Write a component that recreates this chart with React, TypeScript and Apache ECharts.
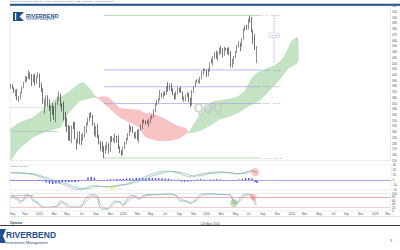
import React, { useEffect, useRef } from 'react';
import * as echarts from 'echarts';

const START_DATE = '2021-08-30';
const WEEK_COUNT = 237;

// weekly candles [open, close, low, high] from week of 2021-08-30 to week of 2024-08-05
const candles: number[][] = [
  [378, 382, 376, 384], [382, 376, 375, 383], [376, 370, 368, 378], [368, 372, 362, 374],
  [373, 358, 355, 375], [356, 360, 352, 363], [360, 369, 357, 370], [369, 378, 367, 379],
  [378, 387, 376, 388], [388, 396, 386, 397], [396, 393, 388, 397], [393, 401, 392, 408],
  [402, 394, 392, 404], [394, 388, 380, 401], [389, 398, 386, 400], [398, 389, 381, 402],
  [387, 397, 384, 398], [398, 398, 395, 404], [400, 380, 377, 402], [378, 376, 370, 386],
  [374, 350, 349, 376], [346, 355, 332, 358], [356, 358, 344, 364], [358, 346, 345, 364],
  [346, 340, 337, 357], [338, 344, 318, 346], [342, 340, 330, 350], [337, 323, 321, 345],
  [323, 350, 317, 352], [350, 360, 347, 362], [361, 363, 354, 371], [362, 347, 344, 367],
  [345, 338, 336, 350], [339, 322, 320, 353], [320, 313, 309, 335], [313, 308, 300, 325],
  [305, 304, 285, 312], [306, 288, 284, 310], [290, 310, 280, 311], [312, 308, 305, 318],
  [310, 288, 287, 317], [285, 281, 269, 288], [283, 298, 280, 300], [298, 282, 278, 301],
  [280, 293, 277, 296], [290, 294, 284, 298], [294, 306, 290, 310], [306, 315, 298, 317],
  [313, 321, 311, 325], [322, 331, 318, 333], [331, 325, 324, 335], [323, 312, 311, 330],
  [313, 296, 294, 316], [295, 308, 291, 310], [310, 291, 289, 314], [290, 280, 278, 295],
  [279, 268, 267, 284], [273, 267, 265, 283], [266, 261, 254, 275], [264, 275, 262, 277],
  [276, 278, 268, 283], [278, 267, 262, 280], [268, 290, 265, 292], [288, 284, 282, 293],
  [285, 287, 283, 290], [285, 293, 280, 297], [292, 283, 281, 293], [284, 272, 270, 294],
  [273, 267, 263, 275], [266, 266, 258, 268], [268, 272, 260, 274], [273, 281, 270, 283],
  [281, 288, 278, 290], [287, 296, 285, 298], [296, 310, 293, 314], [308, 302, 300, 310],
  [302, 300, 298, 310], [297, 291, 289, 299], [292, 299, 288, 300], [300, 286, 285, 304],
  [283, 303, 280, 305], [303, 306, 302, 313], [308, 320, 305, 321], [320, 319, 315, 322],
  [318, 318, 313, 320], [318, 316, 314, 320], [316, 322, 308, 323], [321, 325, 315, 327],
  [325, 327, 322, 330], [326, 338, 325, 340], [338, 348, 334, 350], [348, 354, 346, 356],
  [354, 356, 350, 359], [357, 369, 355, 373], [368, 362, 360, 368], [362, 369, 358, 370],
  [369, 366, 363, 371], [367, 378, 365, 380], [379, 373, 370, 387], [374, 383, 372, 384],
  [383, 372, 370, 385], [373, 367, 364, 376], [366, 359, 356, 368], [360, 367, 357, 371],
  [368, 377, 365, 378], [376, 373, 369, 377], [374, 370, 368, 379], [370, 358, 356, 371],
  [358, 358, 352, 362], [357, 363, 353, 365], [364, 365, 361, 370], [366, 354, 352, 368],
  [354, 349, 343, 360], [348, 372, 346, 373], [372, 379, 368, 380], [380, 387, 378, 390],
  [388, 389, 386, 392], [389, 389, 385, 392], [388, 394, 384, 396], [394, 404, 392, 407],
  [405, 408, 399, 411], [409, 409, 406, 411], [408, 399, 396, 409], [400, 409, 397, 411],
  [409, 421, 405, 422], [423, 421, 420, 428], [422, 431, 416, 432], [431, 438, 428, 440],
  [439, 431, 428, 442], [430, 438, 424, 440], [438, 446, 434, 447], [446, 439, 437, 450],
  [440, 434, 430, 446], [435, 445, 433, 449], [445, 444, 442, 447], [445, 440, 436, 447],
  [440, 438, 434, 448], [439, 414, 413, 441], [415, 426, 412, 428], [427, 430, 418, 433],
  [431, 439, 429, 441], [440, 450, 438, 452], [451, 452, 447, 459], [453, 450, 441, 456],
  [452, 462, 449, 464], [462, 479, 461, 481], [480, 480, 476, 486], [481, 479, 478, 487],
  [480, 496, 479, 498], [497, 496, 491, 503], [497, 475, 474, 501], [475, 459, 454, 479],
  [460, 448, 443, 471], [430, 446, 420, 450],
];

// Ichimoku cloud edges [weekIndex, price]
const greenCloud1Upper = [[0, 306], [6, 317], [14, 325], [22, 343], [27, 355], [35, 367], [39, 376], [43, 385], [45, 386], [49, 376], [52, 364], [54, 360]];
const greenCloud1Lower = [[0, 251], [3, 263], [6, 273], [14, 291], [22, 301], [31, 308], [35, 329], [40, 346], [43, 355], [51, 360], [54, 360]];
const redCloudUpper = [[54, 360], [58, 362], [61, 360], [68, 341], [80, 338], [84, 332], [88, 332], [94, 325], [103, 311], [109, 306], [111, 298]];
const redCloudLower = [[54, 360], [61, 343], [68, 325], [72, 320], [80, 308], [84, 291], [91, 285], [99, 285], [105, 289], [110, 299], [111, 298]];
const greenCloud2Upper = [[111, 298], [114, 313], [117, 327], [120, 339], [125, 352], [130, 355], [136, 357], [142, 362], [146, 372], [150, 393], [153, 402], [156, 407], [161, 412], [164, 416], [167, 421], [170, 430], [173, 447], [175, 459], [178, 465], [179, 463]];
const greenCloud2Lower = [[111, 298], [117, 301], [124, 311], [130, 322], [136, 327], [142, 334], [148, 345], [155, 355], [161, 372], [167, 390], [173, 412], [178, 419], [179, 425]];

// Fibonacci retracement levels
const fibLabels = ['0.0%', '38.2%', '50.0%', '61.8%', '100.0%'];
const fibPrices = [503.52, 408.32, 378.92, 349.51, 254.32];
const fibStartIdx = 58;
const fibEndIdx = 156;
const oldLevelDotted = 343;
const oldLevelSolid = 301;

// MACD panel [weekIndex, value]
const macdLine = [[0, 14], [4, 14], [8, 13], [12, 12], [16, 9], [20, 4], [24, -2], [28, -5], [32, -8], [36, -13], [40, -18], [44, -19], [48, -14], [52, -11], [56, -13], [60, -14], [64, -12], [68, -10], [72, -8], [76, -3], [80, 2], [84, 7], [88, 12], [92, 16], [96, 18], [100, 17], [104, 14], [108, 9], [112, 6], [116, 10], [120, 13], [124, 15], [128, 16], [132, 16], [136, 14], [140, 12], [144, 14], [148, 18], [150, 19], [152, 15], [153, 12]];
const signalLine = [[0, 15], [4, 14.5], [8, 14], [12, 13], [16, 11], [20, 7], [24, 2], [28, -2], [32, -5], [36, -9], [40, -14], [44, -17], [48, -17], [52, -14], [56, -13], [60, -13], [64, -13], [68, -11], [72, -9], [76, -6], [80, -2], [84, 3], [88, 8], [92, 12], [96, 15], [100, 17], [104, 16], [108, 13], [112, 9], [116, 8], [120, 10], [124, 13], [128, 14], [132, 15], [136, 15], [140, 13], [144, 13], [148, 15], [150, 17], [152, 17], [153, 16]];
const macdHist = [[0, -1.5], [2, -1.5], [4, -2], [6, -1.5], [8, -1.5], [10, -2], [12, -1.5], [14, -2], [16, -2], [18, -2], [20, -2.5], [22, -5], [24, -7], [26, -8], [28, -7], [30, -6], [32, -4], [34, -4], [36, -4.5], [38, -3.5], [40, -4], [42, -3], [44, -1], [46, -1], [48, 5], [50, 6], [52, 4], [54, -2], [56, -2], [58, -1.5], [60, 1], [62, 1.5], [64, 1], [66, 2], [68, 2], [70, 2], [72, 3], [74, 3.5], [76, 3], [78, 4], [80, 3.5], [82, 4], [84, 3.5], [86, 4], [88, 4], [90, 3.5], [92, 3.5], [94, 3], [96, 3], [98, 2.5], [100, 1], [102, 0.5], [104, 1], [106, -3], [108, -3.5], [110, -3], [112, -2.5], [114, -1], [116, 1], [118, 1.5], [120, 1], [122, 0.5], [124, 1], [126, 1], [128, 1.5], [130, 1], [132, -1], [134, -1], [136, -1], [138, -1.5], [140, -1], [142, 1], [144, 2], [146, 3.5], [148, 4], [150, 3], [152, -4], [153, -6]];

// Stochastic panel [weekIndex, value]
const stochK = [[0, 85], [4, 67], [6, 50], [8, 67], [10, 94], [12, 85], [14, 57], [16, 50], [18, 30], [20, 20], [24, 22], [29, 30], [31, 57], [32, 52], [35, 30], [37, 20], [41, 22], [44, 30], [47, 76], [51, 94], [54, 78], [55, 30], [57, 11], [60, 11], [62, 30], [65, 57], [68, 50], [70, 30], [72, 57], [75, 89], [77, 85], [80, 67], [82, 85], [86, 94], [93, 94], [99, 98], [103, 85], [106, 57], [109, 57], [112, 43], [116, 76], [119, 98], [125, 98], [130, 94], [136, 94], [138, 67], [139, 44], [141, 48], [144, 85], [148, 98], [150, 85], [152, 48], [153, 30]];
const stochD = [[0, 88], [4, 75], [6, 60], [8, 60], [10, 80], [12, 88], [14, 70], [16, 55], [18, 40], [20, 26], [24, 21], [29, 26], [31, 45], [32, 50], [35, 40], [37, 27], [41, 21], [44, 26], [47, 55], [51, 85], [54, 85], [55, 60], [57, 25], [60, 12], [62, 20], [65, 45], [68, 52], [70, 40], [72, 45], [75, 75], [77, 86], [80, 75], [82, 80], [86, 90], [93, 94], [99, 96], [103, 90], [106, 70], [109, 58], [112, 50], [116, 62], [119, 88], [125, 97], [130, 95], [136, 93], [138, 80], [139, 58], [141, 46], [144, 70], [148, 92], [150, 90], [152, 65], [153, 45]];

const measureIdx = 164;
const measureTop = 503.52;
const measureBottom = 420.4;
const measureText = '-16.5%';

const MONTHS = ['Jan', 'Feb', 'Mar', 'Apr', 'May', 'Jun', 'Jul', 'Aug', 'Sep', 'Oct', 'Nov', 'Dec'];

function buildCategories(): string[] {
  const out: string[] = [];
  const t0 = Date.parse(START_DATE + 'T00:00:00Z');
  for (let i = 0; i < WEEK_COUNT; i++) {
    out.push(new Date(t0 + i * 7 * 86400000).toISOString().slice(0, 10));
  }
  return out;
}

function isLabelWeek(v: string): boolean {
  const d = new Date(v + 'T00:00:00Z');
  return d.getUTCDate() <= 7 && d.getUTCMonth() % 2 === 0;
}

function cloud(upper: number[][], lower: number[][], fill: string, stroke: string) {
  return {
    type: 'custom',
    xAxisIndex: 0,
    yAxisIndex: 0,
    z: 1,
    silent: true,
    data: upper,
    renderItem: (params: any, api: any) => {
      if (params.dataIndex !== 0) return { type: 'group', children: [] };
      const pts = upper.map((p) => api.coord(p)).concat(lower.slice().reverse().map((p) => api.coord(p)));
      return {
        type: 'polygon',
        shape: { points: pts },
        style: { fill, stroke, lineWidth: 0.4 },
      };
    },
  };
}

const FONT = 'Liberation Sans';

export default function App() {
  const ref = useRef<HTMLDivElement>(null);
  useEffect(() => {
    const chart = echarts.init(ref.current!, null, { renderer: 'svg' });
    const cats = buildCategories();
    const xBase = (idx: number, showLabels: boolean) => ({
      type: 'category',
      gridIndex: idx,
      data: cats,
      boundaryGap: true,
      axisLine: { show: false },
      axisTick: { show: false },
      splitLine: { show: false },
      axisLabel: showLabels
        ? {
            show: true,
            interval: (_i: number, v: string) => isLabelWeek(v),
            formatter: (v: string) => {
              const d = new Date(v + 'T00:00:00Z');
              return d.getUTCMonth() === 0 ? String(d.getUTCFullYear()) : MONTHS[d.getUTCMonth()];
            },
            fontSize: 3,
            color: '#555',
            margin: 1.5,
            fontFamily: FONT,
          }
        : { show: false },
    });
    const yBase = (idx: number, min: number, max: number, interval: number) => ({
      type: 'value',
      gridIndex: idx,
      position: 'right',
      min,
      max,
      interval,
      axisLine: { show: false },
      axisTick: { show: false },
      splitLine: { show: false },
      axisLabel: { fontSize: 3, color: '#555', margin: 1.5, fontFamily: FONT },
    });

    const fibColors = ['#9ed69e', '#a9a9f0', '#a9a9f0', '#a9a9f0', '#9ed69e'];
    const fibTextColors = ['#5aa05a', '#5a5ad0', '#5a5ad0', '#5a5ad0', '#5aa05a'];
    const fibSeries: any[] = fibPrices.map((p, i) => ({
      type: 'line',
      xAxisIndex: 0,
      yAxisIndex: 0,
      z: 2,
      symbol: 'none',
      silent: true,
      data: [[fibStartIdx, p], [fibEndIdx, p]],
      lineStyle: { color: fibColors[i], width: 0.8 },
    }));
    const fibLabelSeries = {
      type: 'scatter',
      xAxisIndex: 0,
      yAxisIndex: 0,
      symbolSize: 0,
      silent: true,
      z: 4,
      data: fibPrices.map((p, i) => ({
        value: [fibEndIdx + 1, p],
        label: {
          show: true,
          position: 'right',
          distance: 0,
          formatter: fibLabels[i] + '    ' + p.toFixed(2),
          fontSize: 2.5,
          color: fibTextColors[i],
          fontFamily: FONT,
        },
      })),
    };

    const option: any = {
      animation: false,
      backgroundColor: '#ffffff',
      grid: [
        { left: 10, right: 8, top: 6, height: 154.5, show: true, borderColor: '#d8d8d8', borderWidth: 0.5 },
        { left: 10, right: 8, top: 165, height: 25, show: true, borderColor: '#d8d8d8', borderWidth: 0.5 },
        { left: 10, right: 8, top: 193.5, height: 17.5, show: true, borderColor: '#d8d8d8', borderWidth: 0.5 },
      ],
      xAxis: [xBase(0, false), xBase(1, false), xBase(2, true)],
      yAxis: [yBase(0, 250, 520, 10), yBase(1, -20, 30, 10), yBase(2, 0, 100, 20)],
      series: [
        cloud(greenCloud1Upper, greenCloud1Lower, '#c3e3c3', '#a8d4a8'),
        cloud(redCloudUpper, redCloudLower, '#f9c3c3', '#f0a8a8'),
        cloud(greenCloud2Upper, greenCloud2Lower, '#c3e3c3', '#a8d4a8'),
        {
          type: 'line', xAxisIndex: 0, yAxisIndex: 0, symbol: 'none', silent: true, z: 2,
          data: [[0, oldLevelDotted], [30, oldLevelDotted]],
          lineStyle: { color: '#a0a0a0', width: 0.6, type: [1, 1] },
        },
        {
          type: 'line', xAxisIndex: 0, yAxisIndex: 0, symbol: 'none', silent: true, z: 2,
          data: [[0, oldLevelSolid], [29, oldLevelSolid]],
          lineStyle: { color: '#b8b8b8', width: 0.8 },
        },
        ...fibSeries,
        fibLabelSeries,
        {
          type: 'line', xAxisIndex: 0, yAxisIndex: 0, symbol: 'none', silent: true, z: 2,
          data: [[measureIdx, measureTop], [measureIdx, measureBottom]],
          lineStyle: { color: '#6b6bd8', width: 0.5, type: [1.5, 1] },
        },
        {
          type: 'scatter', xAxisIndex: 0, yAxisIndex: 0, symbolSize: 0, silent: true, z: 5,
          data: [{
            value: [measureIdx, (measureTop + measureBottom) / 2 + 7],
            label: {
              show: true, position: 'inside', formatter: measureText, fontSize: 2.5, color: '#444',
              backgroundColor: '#ffffff', borderColor: '#9a9ad8', borderWidth: 0.4, padding: [0.5, 1], fontFamily: FONT,
            },
          }],
        },
        {
          type: 'candlestick',
          xAxisIndex: 0,
          yAxisIndex: 0,
          z: 3,
          barWidth: '75%',
          data: candles,
          itemStyle: {
            color: '#ffffff',
            color0: '#1a1a1a',
            borderColor: '#444444',
            borderColor0: '#1a1a1a',
            borderWidth: 0.6,
          },
        },
        // MACD panel
        {
          type: 'bar', xAxisIndex: 1, yAxisIndex: 1, barWidth: 1.3, silent: true,
          data: macdHist,
          itemStyle: { color: '#3a3af0' },
          markLine: {
            silent: true, symbol: 'none', label: { show: false },
            lineStyle: { color: '#8080ff', width: 0.7, type: 'solid' },
            data: [{ yAxis: 0 }],
          },
        },
        {
          type: 'line', xAxisIndex: 1, yAxisIndex: 1, symbol: 'none', smooth: 0.4, silent: true,
          data: macdLine, lineStyle: { color: '#8aa6e8', width: 0.7 },
        },
        {
          type: 'line', xAxisIndex: 1, yAxisIndex: 1, symbol: 'none', smooth: 0.4, silent: true,
          data: signalLine, lineStyle: { color: '#7cc27c', width: 0.7 },
        },
        {
          type: 'scatter', xAxisIndex: 1, yAxisIndex: 1, silent: true, z: 6,
          data: [
            { value: [152, 16], symbolSize: 8, itemStyle: { color: 'rgba(240,110,110,0.5)' } },
            { value: [63, -16], symbolSize: [5, 3], itemStyle: { color: 'rgba(245,225,80,0.8)' } },
          ],
        },
        // Stochastic panel
        {
          type: 'line', xAxisIndex: 2, yAxisIndex: 2, symbol: 'none', smooth: 0.4, silent: true,
          data: stochK, lineStyle: { color: '#7b96e6', width: 0.7 },
          markLine: {
            silent: true, symbol: 'none', label: { show: false },
            data: [
              { yAxis: 80, lineStyle: { color: '#f08c8c', width: 0.7, type: 'solid' } },
              { yAxis: 20, lineStyle: { color: '#f5b8b8', width: 0.7, type: 'solid' } },
            ],
          },
        },
        {
          type: 'line', xAxisIndex: 2, yAxisIndex: 2, symbol: 'none', smooth: 0.4, silent: true,
          data: stochD, lineStyle: { color: '#8cc88c', width: 0.7 },
        },
        {
          type: 'scatter', xAxisIndex: 2, yAxisIndex: 2, silent: true, z: 6,
          data: [
            { value: [139, 46], symbolSize: 8, itemStyle: { color: 'rgba(110,180,110,0.55)' } },
            { value: [151, 80], symbolSize: 7, itemStyle: { color: 'rgba(240,110,110,0.5)' } },
          ],
        },
      ],
      graphic: [
        { type: 'text', x: 10, y: 0, style: { text: 'Invesco QQQ Trust (QQQ.O) - Weekly Candlestick Chart - USD - Ichimoku - Fib Retracement', fontSize: 2.5, fill: '#666', fontFamily: FONT } },
        { type: 'rect', shape: { x: 10, y: 3.8, width: 390, height: 2 }, style: { fill: '#1f4f8c' } },
        // top logo
        { type: 'polygon', shape: { points: [[13, 12], [24, 12], [19.5, 16.5], [24, 21], [13, 21]] }, style: { fill: '#1f4f8c' } },
        { type: 'rect', shape: { x: 15, y: 13, width: 1.2, height: 7 }, style: { fill: '#ffffff' } },
        { type: 'text', x: 26, y: 12.5, style: { text: 'RIVERBEND', fontSize: 5.5, fontWeight: 'bold', fill: '#1f4f8c', fontFamily: FONT } },
        { type: 'text', x: 26, y: 18.3, style: { text: 'Investment Management', fontSize: 2.6, fill: '#1f4f8c', fontFamily: FONT } },
        // watermark
        { type: 'text', x: 208, y: 108, z: 100, style: { text: 'QQQ', fontSize: 12, fontWeight: 'bold', fill: 'rgba(200,200,200,0.85)', align: 'center', verticalAlign: 'middle', fontFamily: FONT } },
        // panel titles
        { type: 'text', x: 11, y: 165.5, style: { text: '12, 26, 9 MACD', fontSize: 2.3, fill: '#666', fontFamily: FONT } },
        { type: 'text', x: 11, y: 194, style: { text: 'Stoch Slow Stochastic', fontSize: 2.3, fill: '#666', fontFamily: FONT } },
        // footer
        { type: 'rect', shape: { x: 10, y: 216, width: 390, height: 0.5 }, style: { fill: '#d0d0d0' } },
        { type: 'text', x: 10, y: 221.5, style: { text: 'Optuma', fontSize: 3.2, fontWeight: 'bold', fill: '#2a3f6a', fontFamily: FONT } },
        { type: 'text', x: 210, y: 222, style: { text: '12th Aug 2024', fontSize: 3, fill: '#555', align: 'center', fontFamily: FONT } },
        { type: 'rect', shape: { x: 0, y: 225, width: 400, height: 1 }, style: { fill: '#3a3a3a' } },
        // bottom logo
        { type: 'polygon', shape: { points: [[0, 229], [6, 229], [3, 236], [6, 243], [0, 243]] }, style: { fill: '#1f4f8c' } },
        { type: 'text', x: 6, y: 230, style: { text: 'RIVERBEND', fontSize: 8.5, fontWeight: 'bold', fill: '#1f4f8c', fontFamily: FONT } },
        { type: 'text', x: 6, y: 241, style: { text: 'Investment Management', fontSize: 3.8, fill: '#1f4f8c', fontFamily: FONT } },
        { type: 'text', x: 390, y: 238, style: { text: '3', fontSize: 4, fill: '#666', fontFamily: FONT } },
      ],
    };
    chart.setOption(option);
    return () => chart.dispose();
  }, []);
  return <div ref={ref} style={{ width: 400, height: 250, position: 'absolute', left: 0, top: 0 }} />;
}
